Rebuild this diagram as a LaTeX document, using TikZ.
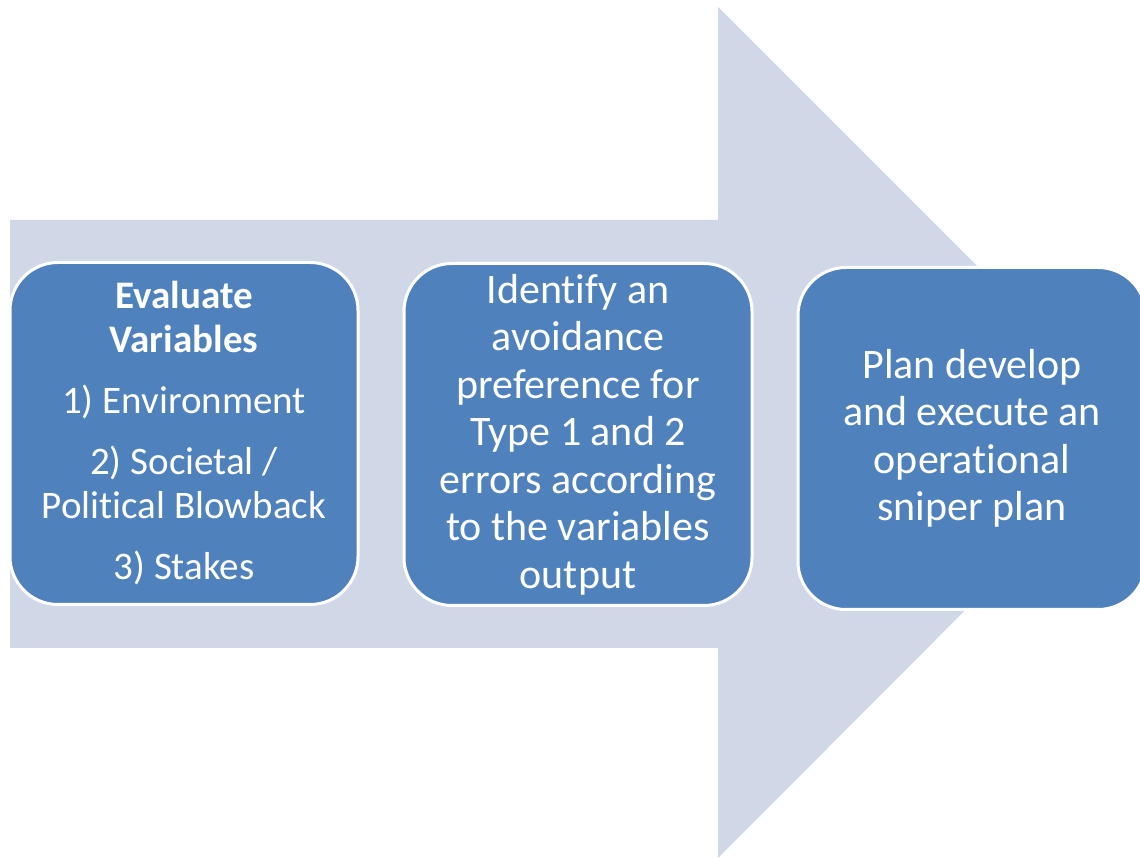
\documentclass[tikz,border=0pt]{standalone}
\usepackage{fontspec}
\setmainfont{Carlito}
\usetikzlibrary{positioning}
\definecolor{arrowgray}{RGB}{208,216,232}
\definecolor{stageblue}{RGB}{79,129,189}
\newcommand{\tI}{t\kern0pt i}% keep t and i apart (no ligature)
\tikzset{basic/.style={draw=white,line width=3pt,fill=stageblue,text=white,
                       rounded corners=48pt,align=center,inner sep=0pt,
                       minimum width=348pt,minimum height=342pt}}
\tikzset{stage/.style={basic,font=\fontsize{42}{47.5}\selectfont}}
\tikzset{firststage/.style={basic,font=\fontsize{39}{44}\selectfont}}

\begin{document}
\begin{tikzpicture}[x=1pt,y=1pt]
    \useasboundingbox (0,0) rectangle (1140,859);
    % the big arrow behind the boxes
    \fill[arrowgray] (10,211) -- (10,639) -- (718,639) -- (718,852)
        -- (1143,427) -- (718,1) -- (718,211) -- cycle;
    \node[firststage] (eval) at (184,425.5)
        {\textbf{Evaluate}\\\textbf{Variables}\\[17pt]
         1) Environment\\[17pt]
         2) Societal /\\Poli\tI cal Blowback\\[17pt]
         3) Stakes};
    \node[stage,right=43pt of eval,yshift=-1pt] (avoid)
        {Iden\tI fy an\\avoidance\\preference for\\Type 1 and 2\\errors according\\to the variables\\output};
    \node[stage,right=43pt of avoid,yshift=-4pt] (plan)
        {Plan develop\\and execute an\\opera\tI onal\\sniper plan};
\end{tikzpicture}
\end{document}
